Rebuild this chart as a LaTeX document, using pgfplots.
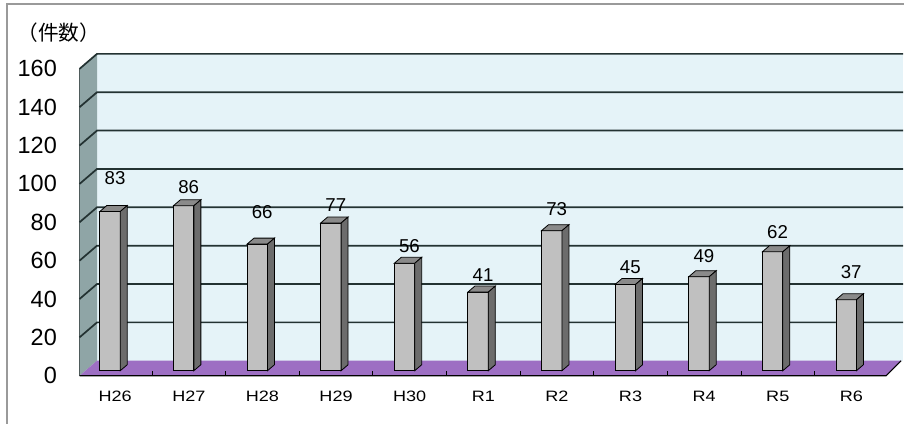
\documentclass[border=0pt]{standalone}
\usepackage{fontspec}
\usepackage{pgfplots}
\usepackage{pgfplotstable}
\pgfplotsset{compat=1.18}
\setmainfont{Liberation Sans}
\newfontfamily\catfont{Liberation Sans}[FakeStretch=1.2]
\newfontfamily\cjk{Noto Sans CJK JP}

\definecolor{barfront}{HTML}{C0C0C0}
\definecolor{bartop}{HTML}{8A8A8A}
\definecolor{barside}{HTML}{6C6C6C}
\definecolor{backwall}{HTML}{E5F3F8}
\definecolor{sidewall}{HTML}{8FA5A6}
\definecolor{floorcol}{HTML}{9D6FC3}
\definecolor{gridcol}{HTML}{233232}
\definecolor{framecol}{HTML}{9A9A9A}

% yearly counts; lab = height of the value label
\pgfplotstableread{
i  v   lab
0  83  100.5
1  86  95.8
2  66  82.8
3  77  86.5
4  56  65.1
5  41  49.7
6  73  84.4
7  45  54.2
8  49  59.9
9  62  72.4
10 37  51.6
}\counts

% picture units: 1px = 0.75pt, y unit = 1.44pt
\newcommand\px[2]{(axis cs:{((#1)-110)/73.7},{(371-(#2))/1.92})}

% top and side faces of a 3-D column; \bv is the column's value
\pgfdeclareplotmark{bar3d}{%
  \pgfmathsetmacro\bh{1.44*\bv}%
  \pgfsetlinewidth{0.6pt}%
  \pgfsetstrokecolor{black}%
  \pgfsetfillcolor{bartop}%
  \pgfpathmoveto{\pgfqpoint{-7.6875pt}{0pt}}%
  \pgfpathlineto{\pgfqpoint{7.6875pt}{0pt}}%
  \pgfpathlineto{\pgfqpoint{12.9375pt}{4.5pt}}%
  \pgfpathlineto{\pgfqpoint{-2.4375pt}{4.5pt}}%
  \pgfpathclose
  \pgfusepath{fill,stroke}%
  \pgfsetfillcolor{barside}%
  \pgfpathmoveto{\pgfqpoint{7.6875pt}{0pt}}%
  \pgfpathlineto{\pgfqpoint{12.9375pt}{4.5pt}}%
  \pgfpathlineto{\pgfpoint{12.9375pt}{4.5pt-\bh pt}}%
  \pgfpathlineto{\pgfpoint{7.6875pt}{-\bh pt}}%
  \pgfpathclose
  \pgfusepath{fill,stroke}%
}

\begin{document}
\begin{tikzpicture}
\begin{axis}[
  at={(0,0)}, anchor=south west,
  scale only axis, width=678pt, height=318pt,
  xmin=-1.4925, xmax=10.7734, ymin=-27.604, ymax=193.229,
  clip=false,
  axis line style={draw=none},
  major tick length=0pt,
  xtick={0,...,10},
  xticklabels={H26,H27,H28,H29,H30,R1,R2,R3,R4,R5,R6},
  xticklabel style={font=\catfont\fontsize{11.3}{13}\selectfont, anchor=center, inner sep=0pt, yshift=20.25pt, xshift=3.9pt},
  ytick={0,20,...,160},
  yticklabel style={font=\fontsize{17.6}{20}\selectfont, anchor=east, inner sep=0pt, xshift=42.75pt, yshift=-3.75pt},
  /pgf/number format/assume math mode=true,
]
% outer frame
\draw[overlay, framecol, line width=1.1pt] \px{7}{440} -- \px{7}{4} -- \px{920}{4};
% back wall
\fill[backwall] \px{97}{53.8} rectangle \px{904}{361};
% side wall
\fill[sidewall] \px{79.5}{376} -- \px{79.5}{68.8} -- \px{97}{53.8} -- \px{97}{361} -- cycle;
\draw[gridcol!80, line width=0.8pt] \px{79.5}{376} -- \px{79.5}{68.8};
% gridlines on both walls
\pgfplotsinvokeforeach{20,40,...,160}{
  \draw[gridcol, line width=1.3pt] \px{79.5}{376-1.92*#1} -- \px{97}{361-1.92*#1} -- \px{904}{361-1.92*#1};
}
% floor
\fill[floorcol] \px{79.5}{376} -- \px{887}{376} -- \px{902}{361} -- \px{97}{361} -- cycle;
\draw[black, line width=0.9pt] \px{79.5}{376} -- \px{887}{376} -- \px{902}{361};
\pgfplotsinvokeforeach{0,...,9}{
  \draw[black, line width=0.6pt] \px{152+73.7*#1}{376} -- \px{152+73.7*#1}{371.5};
}
% title
\node[anchor=west, inner sep=0pt, font=\cjk\fontsize{15.5}{17}\selectfont] at \px{17}{33} {（件数）};

% columns
\addplot[ybar, bar width=15.375pt, bar shift=0pt, fill=barfront, draw=black, line width=0.6pt]
  table[x=i, y=v] {\counts};
\addplot[scatter, only marks, mark=bar3d,
  visualization depends on={rawy\as\bv}]
  table[x=i, y=v] {\counts};
% value labels
\addplot[draw=none, mark=none, nodes near coords, point meta=explicit symbolic,
  nodes near coords style={anchor=center, inner sep=0pt, xshift=3.75pt, text=black,
    font=\fontsize{14}{16}\selectfont}]
  table[x=i, y=lab, meta=v] {\counts};
\end{axis}
\end{tikzpicture}
\end{document}
